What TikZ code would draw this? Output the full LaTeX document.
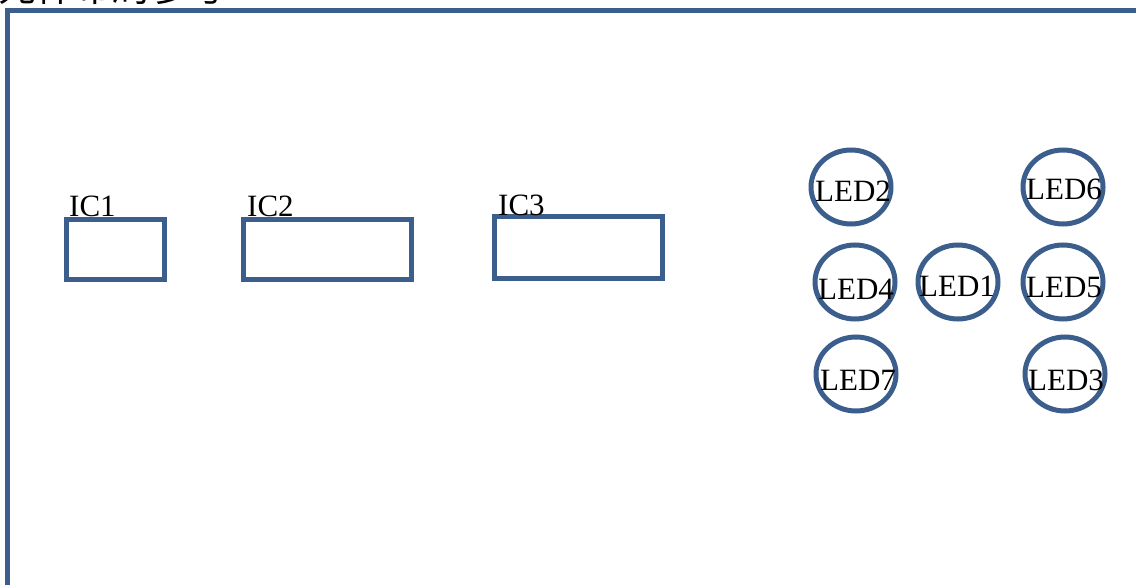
\documentclass[tikz,border=0pt]{standalone}
\usepackage{fontspec}
\setmainfont{Liberation Serif}
\newfontfamily\cjk{Noto Sans CJK SC}
\usepackage{tikz}
\definecolor{framecol}{RGB}{59,94,140}
\tikzset{
  part/.style={draw=framecol, line width=5pt, minimum width=#1, minimum height=60pt, inner sep=0pt},
  led/.style={ellipse, draw=framecol, line width=5pt, minimum width=80pt, minimum height=74pt, inner sep=0pt},
  lbl/.style={font=\fontsize{31}{33}\selectfont, inner sep=0pt}
}
\usetikzlibrary{shapes.geometric}

\begin{document}
\begin{tikzpicture}[x=1pt,y=-1pt]
		\useasboundingbox (0,0) rectangle (1136,585);
		\clip (0,0) rectangle (1136,585);
		\draw[framecol, line width=5pt] (7.5,10.5) rectangle (1160,620);
		\node[anchor=base west, inner sep=0pt, font=\cjk\fontsize{38}{40}\selectfont] (title) at (-2,2) {元件布局参考};
		% ICs
		\node[part=98pt] (ic1) at (115.5,250) {};
		\node[part=168pt] (ic2) at (327.5,250) {};
		\node[part=168pt, minimum height=62pt] (ic3) at (578.5,248) {};
		\node[lbl, anchor=base west] (ic1lbl) at (69,217) {IC1};
		\node[lbl, anchor=base west] (ic2lbl) at (247,217) {IC2};
		\node[lbl, anchor=base west] (ic3lbl) at (498,216) {IC3};
		% LEDs
		\node[led] (led2) at (851,187) {};
		\node[led] (led6) at (1063,187) {};
		\node[led] (led4) at (855,282) {};
		\node[led] (led1) at (958,282) {};
		\node[led] (led5) at (1063,282) {};
		\node[led] (led7) at (856,374) {};
		\node[led] (led3) at (1065,374) {};
		\node[lbl] at (853,191) {LED2};
		\node[lbl] at (1064,189) {LED6};
		\node[lbl] at (856,289) {LED4};
		\node[lbl] at (957,286) {LED1};
		\node[lbl] at (1064,288) {LED5};
		\node[lbl] at (858,380) {LED7};
		\node[lbl] at (1066,380) {LED3};
\end{tikzpicture}
\end{document}
